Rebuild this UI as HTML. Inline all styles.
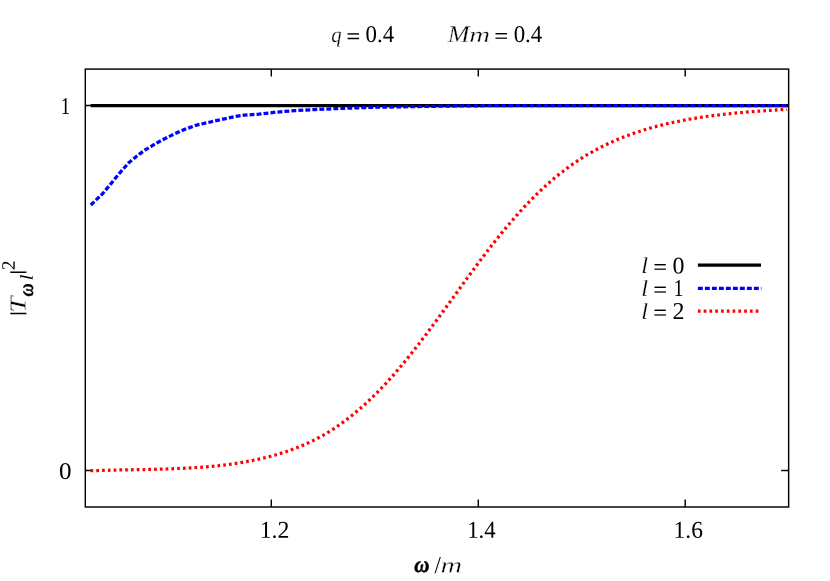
<!DOCTYPE html>
<html><head><meta charset="utf-8"><title>plot</title>
<style>
html,body{margin:0;padding:0;background:#fff;}
svg{display:block;will-change:transform;}
text{font-family:"Liberation Serif",serif;fill:#000;text-rendering:geometricPrecision;}
.i{font-style:italic;}
.bi{font-style:italic;font-weight:bold;}
</style></head><body>
<svg width="830" height="581" viewBox="0 0 830 581">
<rect x="0" y="0" width="830" height="581" fill="#fff"/>
<g stroke="#000" stroke-width="1.45" fill="none">
<rect x="85.3" y="69.1" width="703.35" height="437.9"/>
<path d="M271.3,507v-7.5 M478.3,507v-7.5 M685.2,507v-7.5 M271.3,69.1v7.5 M478.3,69.1v7.5 M685.2,69.1v7.5"/>
<path d="M85.3,105.5h7.6 M85.3,470.5h7.6 M788.65,105.5h-7.5 M788.65,470.5h-7.5"/>
</g>
<path d="M90.7,105.5 L788.5,105.5" stroke="#000" stroke-width="3.25" fill="none"/>
<path d="M90.8,205.0 L102.5,193.8 L111.2,183.4 L119.8,172.8 L124.6,167.5 L129.1,162.4 L134.2,158.2 L139.8,153.8 L145.6,149.7 L151.5,146.2 L155.6,143.6 L162.4,139.9 L172.0,135.1 L184.1,129.6 L196.5,125.1 L208.2,122.5 L220.2,119.8 L235.0,116.5 L244.3,115.2 L258.8,114.1 L275.7,112.2 L295.0,110.6 L314.2,109.6 L338.6,108.5 L377.0,107.2 L415.7,106.6 L460.0,105.9 L520.0,105.5 L600.0,105.5 L788.0,105.5" stroke="#0000ff" stroke-width="3.25" fill="none" stroke-dasharray="4.9 2.1" stroke-linejoin="round"/>
<path d="M90.5,470.5 L94.5,470.5 L98.5,470.5 L102.5,470.4 L106.5,470.3 L110.5,470.2 L114.5,470.1 L118.5,470.0 L122.5,469.9 L126.5,469.8 L130.5,469.8 L134.5,469.7 L138.5,469.6 L142.5,469.5 L146.5,469.5 L150.5,469.4 L154.5,469.3 L158.5,469.2 L162.5,469.1 L166.5,469.0 L170.5,468.8 L174.5,468.7 L178.5,468.5 L182.5,468.4 L186.5,468.2 L190.5,467.9 L194.5,467.7 L198.5,467.4 L202.5,467.1 L206.5,466.8 L210.5,466.5 L214.5,466.1 L218.5,465.7 L222.5,465.2 L226.5,464.7 L230.5,464.2 L234.5,463.6 L238.5,463.0 L242.5,462.3 L246.5,461.6 L250.5,460.8 L254.5,460.0 L258.5,459.2 L262.5,458.3 L266.5,457.3 L270.5,456.3 L274.5,455.2 L278.5,454.0 L282.5,452.8 L286.5,451.5 L290.5,450.1 L294.5,448.7 L298.5,447.1 L302.5,445.4 L306.5,443.7 L310.5,441.8 L314.5,439.9 L318.5,437.8 L322.5,435.6 L326.5,433.3 L330.5,430.8 L334.5,428.3 L338.5,425.5 L342.5,422.7 L346.5,419.7 L350.5,416.6 L354.5,413.4 L358.5,410.0 L362.5,406.5 L366.5,402.9 L370.5,399.1 L374.5,395.2 L378.5,391.2 L382.5,387.0 L386.5,382.8 L390.5,378.3 L394.5,373.8 L398.5,369.1 L402.5,364.4 L406.5,359.5 L410.5,354.5 L414.5,349.5 L418.5,344.4 L422.5,339.1 L426.5,333.9 L430.5,328.5 L434.5,323.1 L438.5,317.7 L442.5,312.2 L446.5,306.7 L450.5,301.2 L454.5,295.7 L458.5,290.2 L462.5,284.6 L466.5,279.1 L470.5,273.7 L474.5,268.2 L478.5,262.8 L482.5,257.5 L486.5,252.2 L490.5,247.0 L494.5,241.9 L498.5,236.9 L502.5,231.9 L506.5,227.1 L510.5,222.4 L514.5,217.8 L518.5,213.3 L522.5,208.9 L526.5,204.6 L530.5,200.5 L534.5,196.4 L538.5,192.5 L542.5,188.7 L546.5,185.0 L550.5,181.5 L554.5,178.1 L558.5,174.8 L562.5,171.7 L566.5,168.6 L570.5,165.7 L574.5,162.9 L578.5,160.3 L582.5,157.7 L586.5,155.2 L590.5,152.9 L594.5,150.6 L598.5,148.5 L602.5,146.4 L606.5,144.5 L610.5,142.6 L614.5,140.8 L618.5,139.1 L622.5,137.5 L626.5,135.9 L630.5,134.4 L634.5,133.0 L638.5,131.7 L642.5,130.4 L646.5,129.2 L650.5,128.0 L654.5,126.9 L658.5,125.9 L662.5,124.9 L666.5,123.9 L670.5,123.0 L674.5,122.1 L678.5,121.3 L682.5,120.5 L686.5,119.7 L690.5,119.0 L694.5,118.4 L698.5,117.7 L702.5,117.1 L706.5,116.5 L710.5,116.0 L714.5,115.4 L718.5,115.0 L722.5,114.5 L726.5,114.0 L730.5,113.6 L734.5,113.2 L738.5,112.8 L742.5,112.5 L746.5,112.1 L750.5,111.8 L754.5,111.5 L758.5,111.2 L762.5,110.9 L766.5,110.6 L770.5,110.4 L774.5,110.1 L778.5,109.9 L782.5,109.6 L786.5,109.4 L787.0,109.3" stroke="#ff0000" stroke-width="3.25" fill="none" stroke-dasharray="2.7 3.08" stroke-linejoin="round"/>
<path d="M697.9,265.2H761" stroke="#000" stroke-width="3.25"/>
<path d="M697.9,288.35H761.4" stroke="#0000ff" stroke-width="3.25" stroke-dasharray="4.9 2.1"/>
<path d="M697.9,311.15H760.9" stroke="#ff0000" stroke-width="3.25" stroke-dasharray="2.7 3.08"/>
<path d="M10.3,313.4H26.4 M10.3,272.2H26.4" stroke="#000" stroke-width="1.5"/>
<text transform="translate(641.3,273.1) rotate(0.03) scale(1.08,1)" font-size="22.6" class="i" stroke="#fff" stroke-width="0.2">l</text>
<text transform="translate(653.4,274.6) rotate(0.03) scale(1.04,1)" font-size="22.8" stroke="#000" stroke-width="0.25">=</text>
<text transform="translate(672.6,273.40000000000003) rotate(0.03) scale(1.05,1.06)" font-size="22.8">0</text>
<text transform="translate(641.3,295.7) rotate(0.03) scale(1.08,1)" font-size="22.6" class="i" stroke="#fff" stroke-width="0.2">l</text>
<text transform="translate(653.4,297.2) rotate(0.03) scale(1.04,1)" font-size="22.8" stroke="#000" stroke-width="0.25">=</text>
<text transform="translate(673.6,296.0) rotate(0.03) scale(0.88,1.06)" font-size="22.8">1</text>
<text transform="translate(641.3,318.8) rotate(0.03) scale(1.08,1)" font-size="22.6" class="i" stroke="#fff" stroke-width="0.2">l</text>
<text transform="translate(653.4,320.3) rotate(0.03) scale(1.04,1)" font-size="22.8" stroke="#000" stroke-width="0.25">=</text>
<text transform="translate(672.6,319.1) rotate(0.03) scale(1.05,1.06)" font-size="22.8">2</text>
<text transform="translate(259.7,537.8) rotate(0.03) scale(1.045,1.06)" font-size="22.8">1.2</text>
<text transform="translate(467.2,537.8) rotate(0.03) scale(1.0,1.06)" font-size="22.8">1.4</text>
<text transform="translate(673.6,537.8) rotate(0.03) scale(1.03,1.06)" font-size="22.8">1.6</text>
<text transform="translate(60.4,113.9) rotate(0.03) scale(0.86,1.06)" font-size="22.8">1</text>
<text transform="translate(59.0,478.9) rotate(0.03) scale(1.1,1.06)" font-size="22.8">0</text>
<text transform="translate(331.2,41.9) rotate(0.03) scale(0.94,1)" font-size="22" class="i" stroke="#fff" stroke-width="0.2">q</text>
<text transform="translate(346.6,43.7) rotate(0.03) scale(1.06,1)" font-size="22.8" stroke="#000" stroke-width="0.25">=</text>
<text transform="translate(365.6,41.9) rotate(0.03) scale(1,1.06)" font-size="22.8">0.4</text>
<text transform="translate(447.8,41.9) rotate(0.03) scale(1.09,1)" font-size="24" class="i" stroke="#fff" stroke-width="0.3">M</text>
<text transform="translate(469.2,41.9) rotate(0.03) scale(1.31,1)" font-size="22" class="i" stroke="#fff" stroke-width="0.35">m</text>
<text transform="translate(494.6,43.5) rotate(0.03) scale(1.06,1)" font-size="22.8" stroke="#000" stroke-width="0.25">=</text>
<text transform="translate(513.7,41.9) rotate(0.03) scale(1,1.06)" font-size="22.8">0.4</text>
<text transform="translate(414.2,572.4) rotate(0.03) scale(0.92,1)" font-size="22.8" class="bi" stroke="#000" stroke-width="0.45">ω</text>
<text transform="translate(434.4,573.0) rotate(0.03) scale(1,1.06)" font-size="22.8">/</text>
<text transform="translate(440.6,572.4) rotate(0.03) scale(1.36,1)" font-size="22" class="i" stroke="#fff" stroke-width="0.35">m</text>
<text transform="translate(25.6,312.8) rotate(-89.97) scale(1.27,1)" font-size="22.8" class="i" stroke="#fff" stroke-width="0.3">T</text>
<text transform="translate(33.3,296.6) rotate(-89.97) scale(0.93,1.08)" font-size="19.5" class="bi" stroke="#000" stroke-width="0.25">ω</text>
<text transform="translate(32.8,280.4) rotate(-89.97) scale(1.2,1)" font-size="18.2" class="i">l</text>
<text transform="translate(14.8,270.0) rotate(-89.97)" font-size="19">2</text>
</svg>
</body></html>
